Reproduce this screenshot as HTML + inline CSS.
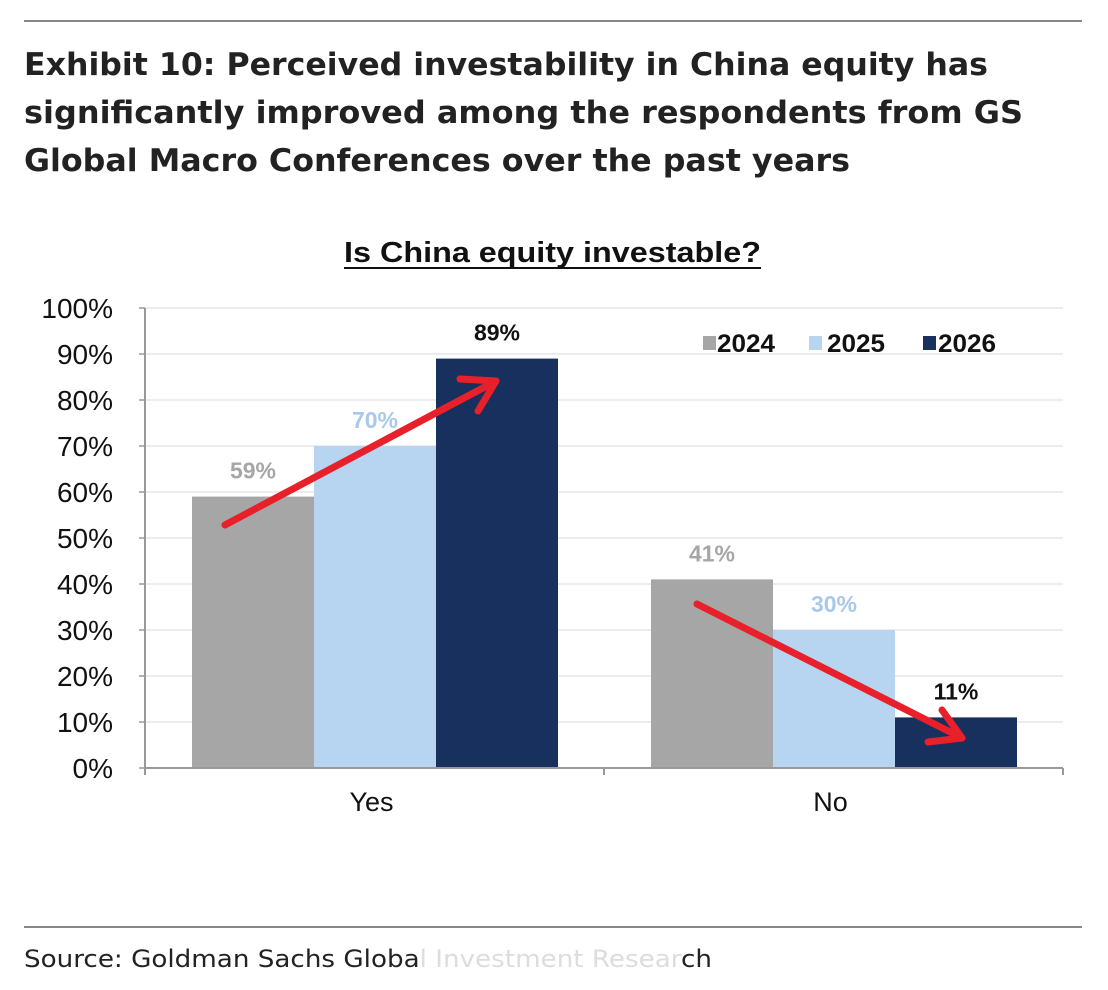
<!DOCTYPE html>
<html><head><meta charset="utf-8"><style>
body{margin:0;background:#fff;width:1108px;height:990px;overflow:hidden;font-family:"Liberation Sans",sans-serif}
svg{position:absolute;left:0;top:0}
</style></head><body>
<svg width="1108" height="990">
<line x1="24" y1="21" x2="1082" y2="21" stroke="#888" stroke-width="2"/>
<text font-family="DejaVu Sans" font-weight="bold" font-size="31" fill="#222">
<tspan x="24" y="75" textLength="964" lengthAdjust="spacingAndGlyphs">Exhibit 10: Perceived investability in China equity has</tspan>
<tspan x="24" y="123" textLength="999" lengthAdjust="spacingAndGlyphs">significantly improved among the respondents from GS</tspan>
<tspan x="24" y="171" textLength="826" lengthAdjust="spacingAndGlyphs">Global Macro Conferences over the past years</tspan></text>
<text x="344" y="262" font-size="29" font-weight="bold" fill="#111" textLength="417" lengthAdjust="spacingAndGlyphs">Is China equity investable?</text>
<line x1="344" y1="268" x2="761" y2="268" stroke="#111" stroke-width="2"/>
<g id="grid"></g><g id="bars"></g><g id="axis"></g>
<g font-size="25" font-weight="bold" fill="#111">
<rect x="703" y="336" width="13" height="14" fill="#a6a6a6"/><text x="717" y="352" textLength="58" lengthAdjust="spacingAndGlyphs">2024</text>
<rect x="809" y="336" width="13" height="14" fill="#b7d4f0"/><text x="827" y="352" textLength="58" lengthAdjust="spacingAndGlyphs">2025</text>
<rect x="923" y="336" width="13" height="14" fill="#17305e"/><text x="938" y="352" textLength="58" lengthAdjust="spacingAndGlyphs">2026</text>
</g>
<g stroke="#e8202a" stroke-width="7" fill="none" stroke-linecap="round" stroke-linejoin="round">
<line x1="225" y1="525" x2="496" y2="381"/>
<polyline points="460,379 496,381 478,411"/>
<line x1="697" y1="604" x2="962" y2="738"/>
<polyline points="942,710 962,738 928,742"/>
</g>
<line x1="24" y1="927" x2="1082" y2="927" stroke="#888" stroke-width="2"/>
<text x="24" y="967" font-family="DejaVu Sans" font-size="24" fill="#222" textLength="688" lengthAdjust="spacingAndGlyphs">Source: Goldman Sachs Globa<tspan fill="#ddd">l Investment Resear</tspan>ch</text>
</svg>
<script>
const categories=["Yes","No"];
const series=["2024","2025","2026"];
const v2024=[59,41];
const v2025=[70,30];
const v2026=[89,11];
const ticks=[0,10,20,30,40,50,60,70,80,90,100];
const colors=["#a6a6a6","#b7d4f0","#17305e"];
const labelColors=["#a6a6a6","#a9c9ea","#111"];
const NS="http://www.w3.org/2000/svg";
const x0=145,x1=1063,yB=768,yT=308;
const y=v=>yB-(v/100)*(yB-yT);
const catW=(x1-x0)/categories.length;
const barW=122;
const xb=(c,s)=>x0+c*catW+47+s*barW;
function mk(t,a,p,txt){const e=document.createElementNS(NS,t);for(const k in a)e.setAttribute(k,a[k]);if(txt!=null)e.textContent=txt;p.appendChild(e);return e;}
const grid=document.getElementById('grid'),bars=document.getElementById('bars'),axis=document.getElementById('axis');
ticks.forEach(t=>{
 if(t>0){const g=mk('line',{x1:x0,x2:x1,y1:y(t),y2:y(t),stroke:'#e6e6e6','stroke-width':1.5},grid);
 
 }
 const l=mk('text',{x:113,y:y(t)+10,'text-anchor':'end','font-size':28,fill:'#111'},axis,t+'%');
 
 
});
const vals=[v2024,v2025,v2026];
categories.forEach((c,ci)=>{
 vals.forEach((arr,si)=>{
  const r=mk('rect',{x:xb(ci,si),y:y(arr[ci]),width:barW,height:yB-y(arr[ci]),fill:colors[si]},bars);
  
  
  const t=mk('text',{x:xb(ci,si)+barW/2,y:y(arr[ci])-18,'text-anchor':'middle','font-size':23,'font-weight':'bold',fill:labelColors[si]},bars,arr[ci]+'%');
  
  
 });
 const cl=mk('text',{x:x0+catW*(ci+0.5)-3,y:811,'text-anchor':'middle','font-size':27,fill:'#111'},axis,c);
 
 
});
const ax=mk('line',{x1:x0,x2:x1,y1:yB,y2:yB,stroke:'#999','stroke-width':2},axis);


const ay=mk('line',{x1:x0,x2:x0,y1:yT,y2:yB,stroke:'#999','stroke-width':2},axis);


for(let i=0;i<=categories.length;i++){mk('line',{x1:x0+i*catW,x2:x0+i*catW,y1:yB,y2:yB+7,stroke:'#999','stroke-width':2},axis);}
ticks.forEach(t=>mk('line',{x1:x0-6,x2:x0,y1:y(t),y2:y(t),stroke:'#999','stroke-width':1.5},axis));
</script>
</body></html>
